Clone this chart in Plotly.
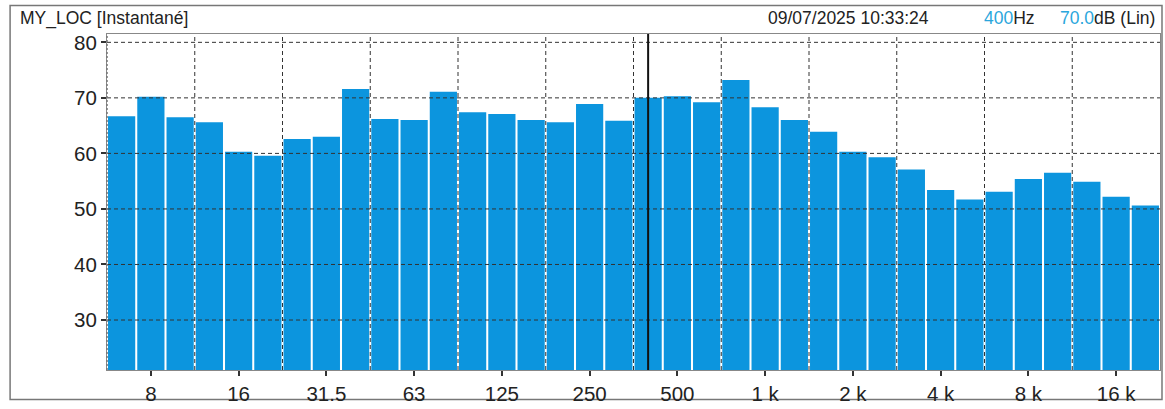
import plotly.graph_objects as go

bands = ["6.3", "8", "10", "12.5", "16", "20", "25", "31.5", "40", "50", "63", "80",
         "100", "125", "160", "200", "250", "315", "400", "500", "630", "800",
         "1 k", "1.25 k", "1.6 k", "2 k", "2.5 k", "3.15 k", "4 k", "5 k", "6.3 k",
         "8 k", "10 k", "12.5 k", "16 k", "20 k"]
levels = [66.7, 70.2, 66.5, 65.6, 60.3, 59.6, 62.6, 63.0, 71.6, 66.2, 66.0, 71.1,
          67.4, 67.1, 66.0, 65.6, 68.9, 65.9, 70.0, 70.3, 69.2, 73.2, 68.3, 66.0,
          63.9, 60.3, 59.3, 57.1, 53.4, 51.7, 53.1, 55.4, 56.5, 54.9, 52.2, 50.6]
tick_labels = ["8", "16", "31.5", "63", "125", "250", "500", "1 k", "2 k", "4 k", "8 k", "16 k"]
y_ticks = [30, 40, 50, 60, 70, 80]
cursor_band = "400"
cursor_level = "70.0"
title_left = "MY_LOC [Instantané]"
timestamp = "09/07/2025 10:33:24"

xs = list(range(len(bands)))
tickvals = [bands.index(t) for t in tick_labels]

W, H = 1165, 409
L, R, T, B = 107, 4, 34, 33
pw, ph = W - L - R, H - T - B


def px(xpix):
    return (xpix - L) / pw


def py(ypix):
    return (H - B - ypix) / ph


FONT = "Liberation Sans, Arial, sans-serif"
BLUE_TXT = "#2aa6dc"

fig = go.Figure()
fig.add_trace(go.Bar(
    x=xs, y=levels,
    marker=dict(color="#0c95de", line=dict(width=0)),
    hoverinfo="x+y",
))

shapes = []
# horizontal dashed grid above bars
for v in y_ticks:
    shapes.append(dict(type="line", xref="paper", yref="y", x0=0, x1=1, y0=v, y1=v,
                       line=dict(color="#333", width=1, dash="4px,3px"), layer="above"))
# vertical dashed grid at octave boundaries (between bands)
for i in range(3, len(bands), 3):
    shapes.append(dict(type="line", xref="x", yref="paper", x0=i - 0.5, x1=i - 0.5, y0=0, y1=1,
                       line=dict(color="#333", width=1, dash="4px,3px"), layer="above"))
# dotted left axis
shapes.append(dict(type="line", xref="paper", yref="paper", x0=0, x1=0, y0=0, y1=1,
                   line=dict(color="#777", width=1.5, dash="2px,2px"), layer="above"))
# cursor
ci = bands.index(cursor_band)
shapes.append(dict(type="line", xref="x", yref="paper", x0=ci, x1=ci, y0=0, y1=1,
                   line=dict(color="#111", width=2), layer="above"))
# outer frame
shapes.append(dict(type="rect", xref="paper", yref="paper",
                   x0=px(10), x1=px(1163), y0=py(406), y1=py(5),
                   line=dict(color="#777", width=1.5), layer="below"))

annotations = [
    dict(text=title_left, xref="paper", yref="paper", x=px(18), y=py(18),
         xanchor="left", yanchor="middle", showarrow=False,
         font=dict(family=FONT, size=17.5, color="#222")),
    dict(text=timestamp, xref="paper", yref="paper", x=px(767), y=py(18),
         xanchor="left", yanchor="middle", showarrow=False,
         font=dict(family=FONT, size=17.5, color="#222")),
    dict(text=f"<span style='color:{BLUE_TXT}'>{cursor_band}</span>Hz", xref="paper", yref="paper",
         x=px(983), y=py(18), xanchor="left", yanchor="middle", showarrow=False,
         font=dict(family=FONT, size=17.5, color="#222")),
    dict(text=f"<span style='color:{BLUE_TXT}'>{cursor_level}</span>dB (Lin)", xref="paper", yref="paper",
         x=px(1059), y=py(18), xanchor="left", yanchor="middle", showarrow=False,
         font=dict(family=FONT, size=17.5, color="#222")),
]

fig.update_layout(
    width=W, height=H,
    margin=dict(l=L, r=R, t=T, b=B, pad=0),
    paper_bgcolor="white", plot_bgcolor="white",
    bargap=0.07,
    showlegend=False,
    shapes=shapes,
    annotations=annotations,
    font=dict(family=FONT, color="#222"),
)
fig.update_xaxes(
    range=[-0.5, len(bands) - 0.5],
    tickvals=tickvals, ticktext=tick_labels,
    ticks="outside", ticklen=5, tickcolor="#333", tickwidth=1.5,
    tickfont=dict(family=FONT, size=20.5, color="#222"),
    showgrid=False, zeroline=False,
    showline=True, linecolor="#888", linewidth=1, mirror=True,
)
fig.update_yaxes(
    range=[21.0, 81.5],
    tickvals=y_ticks,
    ticks="outside", ticklen=5, tickcolor="#333", tickwidth=1.5,
    tickfont=dict(family=FONT, size=20.5, color="#222"),
    showgrid=False, zeroline=False,
    showline=True, linecolor="#888", linewidth=1, mirror=True,
)

fig.write_html("out.html", config={"displayModeBar": False},
               post_script="document.body.style.margin='0px';document.body.style.overflow='hidden';")
